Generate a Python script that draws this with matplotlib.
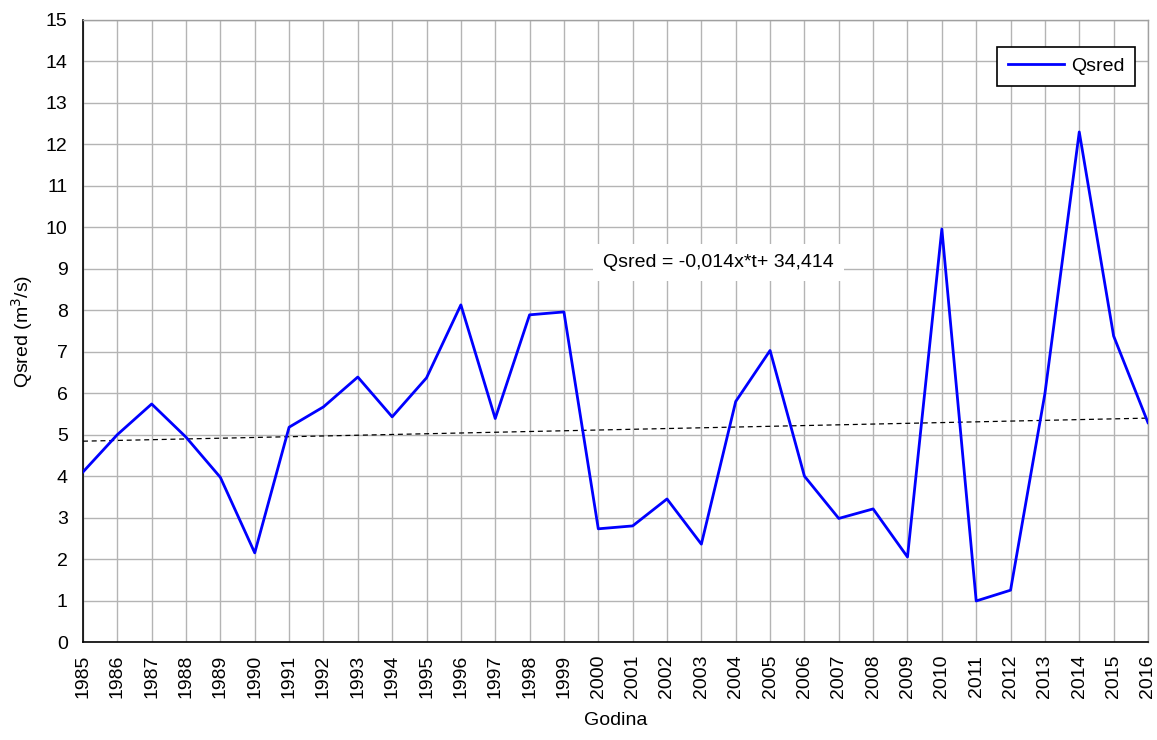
import numpy as np
from matplotlib import pyplot as plt

plt.rcParams['font.family'] = ['Liberation Sans', 'DejaVu Sans']

years = np.arange(1985, 2017)
qsred = [4.10, 5.00, 5.74, 4.94, 3.97, 2.15, 5.18, 5.67, 6.39, 5.43,
         6.37, 8.13, 5.39, 7.89, 7.96, 2.73, 2.80, 3.45, 2.36, 5.80,
         7.03, 4.00, 2.98, 3.21, 2.05, 9.96, 0.99, 1.25, 5.99, 12.30,
         7.38, 5.29]
trend_label = 'Qsred = -0,014x*t+ 34,414'

# linear trend through the series
k, n = np.polyfit(years, qsred, 1)
trend = k * years + n

fig = plt.figure(figsize=(11.57, 7.40), dpi=100)
ax = fig.add_axes([0.0717, 0.1324, 0.9205, 0.8406])

ax.plot(years, qsred, color='#0000ff', lw=2.0, label='Qsred', zorder=3)
ax.plot(years, trend, color='black', lw=0.9, ls=(0, (4, 3)), zorder=2)

ax.set_xlim(1985, 2016)
ax.set_ylim(0, 15)
ax.set_xticks(years)
ax.set_xticklabels([str(y) for y in years], rotation=90)
ax.set_yticks(np.arange(0, 16))
ax.tick_params(labelsize=14, length=0)
ax.tick_params(axis='x', pad=9)
ax.tick_params(axis='y', pad=11)
ax.grid(True, color='#b4b4b4', lw=1.0)
ax.set_axisbelow(True)

for s in ['left', 'bottom']:
    ax.spines[s].set_color('black')
    ax.spines[s].set_linewidth(1.2)
for s in ['top', 'right']:
    ax.spines[s].set_color('#a0a0a0')
    ax.spines[s].set_linewidth(1.0)

ax.set_xlabel('Godina', fontsize=14, labelpad=10)
ax.set_ylabel('Qsred (m$^3$/s)', fontsize=14, labelpad=8)

ax.text(2003.5, 9.15, trend_label, fontsize=14, ha='center', va='center',
        bbox=dict(facecolor='white', edgecolor='none', pad=7), zorder=4)

leg = ax.legend(loc='upper right', bbox_to_anchor=(0.988, 0.9566), fontsize=14,
                frameon=True, fancybox=False, edgecolor='black', framealpha=1,
                handlelength=2.9, handletextpad=0.35, borderpad=0.55,
                borderaxespad=0)
leg.get_frame().set_linewidth(1.2)

plt.savefig('out.png', dpi=100)
